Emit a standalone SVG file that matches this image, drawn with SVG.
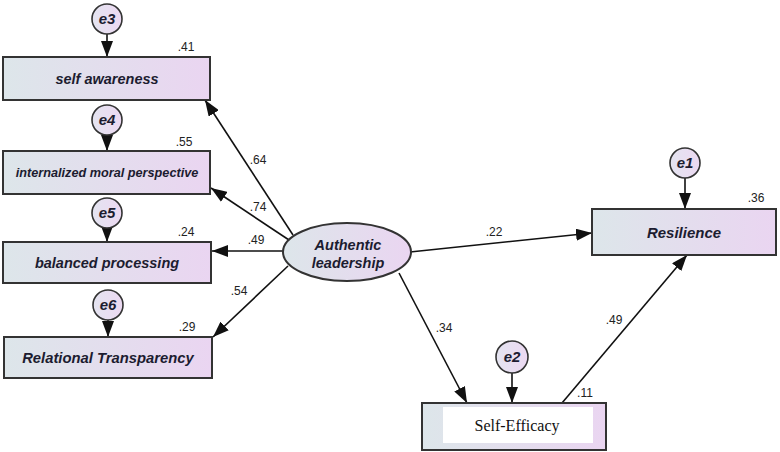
<svg xmlns="http://www.w3.org/2000/svg" width="780" height="452" viewBox="0 0 780 452">
<style>
.box{stroke:#333;stroke-width:2;fill:url(#g)}
.err{stroke:#333;stroke-width:1.6;fill:url(#gc)}
.lbl{font-family:"Liberation Sans",Arial,sans-serif;font-weight:bold;font-style:italic;font-size:14.5px;fill:#1c1c30;text-anchor:middle}
.num{font-family:"Liberation Sans",Arial,sans-serif;font-size:12px;fill:#222;text-anchor:middle}
.ln{stroke:#111;stroke-width:1.6;fill:none;marker-end:url(#ah)}
</style>
<defs>
<linearGradient id="g" x1="0" y1="0" x2="1" y2="0">
<stop offset="0" stop-color="#dde6ea"/>
<stop offset="1" stop-color="#ead5f1"/>
</linearGradient>
<linearGradient id="gc" x1="0" y1="0" x2="1" y2="0">
<stop offset="0" stop-color="#e4e4f0"/>
<stop offset="1" stop-color="#ecd9f2"/>
</linearGradient>
<marker id="ah" markerUnits="userSpaceOnUse" markerWidth="16" markerHeight="12" refX="16" refY="6" orient="auto">
<path d="M0,0 L16,6 L0,12 z" fill="#111"/>
</marker>
</defs>
<g id="connectors">
<line class="ln" x1="107" y1="34" x2="107" y2="57"/>
<line class="ln" x1="107" y1="135" x2="107" y2="151"/>
<line class="ln" x1="107" y1="228" x2="107" y2="242"/>
<line class="ln" x1="108" y1="320" x2="108" y2="337"/>
<line class="ln" x1="685" y1="178" x2="685" y2="209"/>
<line class="ln" x1="512" y1="373" x2="512" y2="403"/>
<line class="ln" x1="293" y1="235" x2="205" y2="100"/>
<line class="ln" x1="289" y1="240" x2="211" y2="188"/>
<line class="ln" x1="283" y1="251" x2="212" y2="251"/>
<line class="ln" x1="288" y1="266" x2="213" y2="337"/>
<line class="ln" x1="410" y1="252" x2="592" y2="233"/>
<line class="ln" x1="399" y1="273" x2="467" y2="403"/>
<line class="ln" x1="562" y1="403" x2="687" y2="255"/>
<text class="num" x="258" y="164">.64</text>
<text class="num" x="258" y="211">.74</text>
<text class="num" x="256" y="244">.49</text>
<text class="num" x="239" y="295">.54</text>
<text class="num" x="494" y="236">.22</text>
<text class="num" x="444" y="332">.34</text>
<text class="num" x="614" y="324">.49</text>
</g>
<g id="e3"><circle class="err" cx="107" cy="19" r="15"/><text class="lbl" x="107" y="24" style="font-size:15px">e3</text></g>
<g id="e4"><circle class="err" cx="107" cy="120" r="15"/><text class="lbl" x="107" y="125" style="font-size:15px">e4</text></g>
<g id="e5"><circle class="err" cx="107" cy="213" r="15"/><text class="lbl" x="107" y="218" style="font-size:15px">e5</text></g>
<g id="e6"><circle class="err" cx="108" cy="305" r="15"/><text class="lbl" x="108" y="310" style="font-size:15px">e6</text></g>
<g id="e1"><circle class="err" cx="685" cy="163" r="15"/><text class="lbl" x="685" y="168" style="font-size:15px">e1</text></g>
<g id="e2"><circle class="err" cx="512" cy="357" r="16"/><text class="lbl" x="512" y="362" style="font-size:15px">e2</text></g>
<g id="self-awareness"><rect class="box" x="3" y="57" width="207" height="43"/><text class="lbl" x="107" y="84">self awareness</text><text class="num" x="186" y="51">.41</text></g>
<g id="internalized"><rect class="box" x="3" y="151" width="207" height="43"/><text class="lbl" x="107" y="177" style="font-size:12.7px">internalized moral perspective</text><text class="num" x="184" y="146">.55</text></g>
<g id="balanced"><rect class="box" x="3" y="242" width="208" height="41"/><text class="lbl" x="107" y="268">balanced processing</text><text class="num" x="186" y="236">.24</text></g>
<g id="relational"><rect class="box" x="4" y="337" width="208" height="41"/><text class="lbl" x="108" y="363" style="font-size:14.8px">Relational Transparency</text><text class="num" x="187" y="331">.29</text></g>
<g id="authentic"><ellipse cx="347" cy="252" rx="64" ry="29" style="stroke:#333;stroke-width:2;fill:url(#g)"/><text class="lbl" x="348" y="250">Authentic</text><text class="lbl" x="348" y="268">leadership</text></g>
<g id="resilience"><rect class="box" x="592" y="209" width="184" height="46"/><text class="lbl" x="684" y="238" style="font-size:15px">Resilience</text><text class="num" x="756" y="202">.36</text></g>
<g id="self-efficacy"><rect class="box" x="422" y="403" width="184" height="47"/><rect x="443" y="407" width="150" height="36" fill="#fff"/><text x="517" y="431" style="font-family:'Liberation Serif','Times New Roman',serif;font-size:16px;fill:#111;text-anchor:middle">Self-Efficacy</text><text class="num" x="585" y="397">.11</text></g>
</svg>
